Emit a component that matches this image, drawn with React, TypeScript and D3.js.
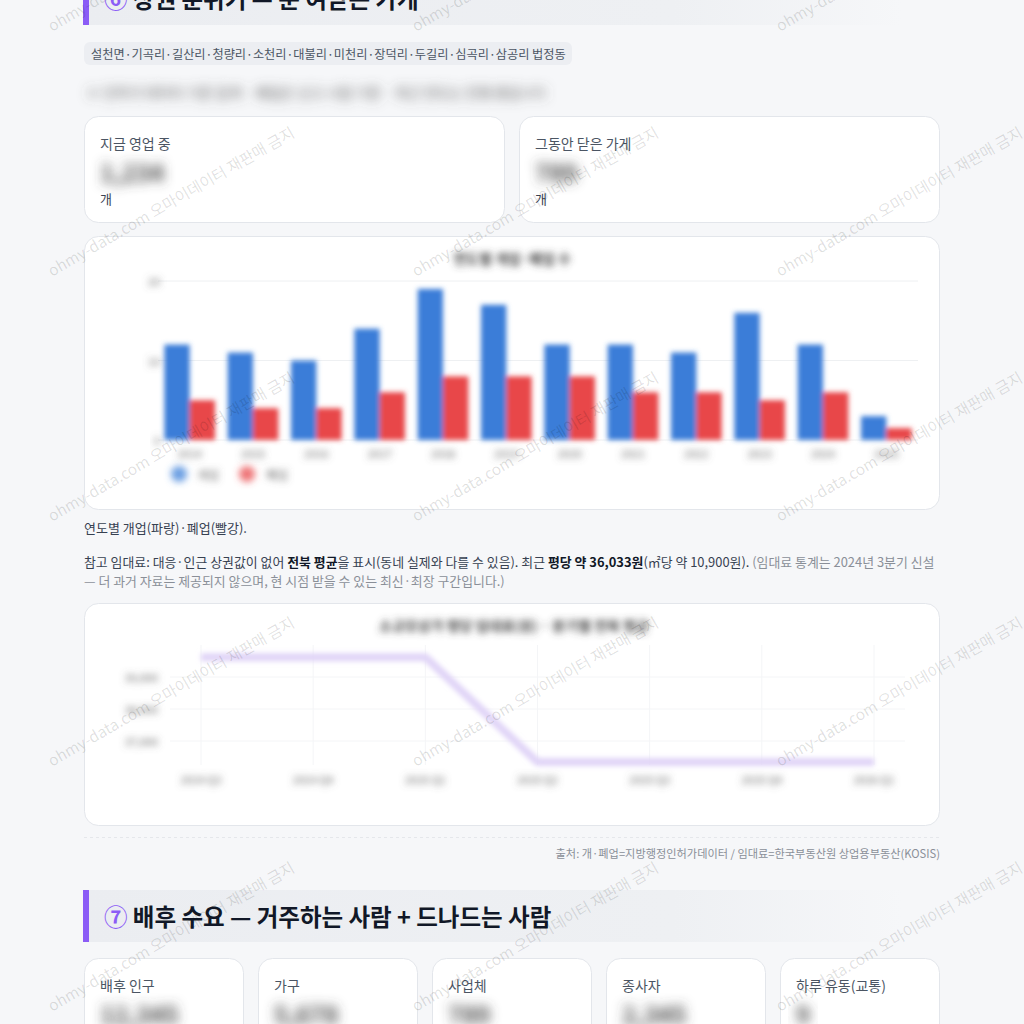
import React from 'react';
import * as d3 from 'd3';

// ---------- data ----------
const dongList = '설천면·기곡리·길산리·청량리·소천리·대불리·미천리·장덕리·두길리·심곡리·삼공리 법정동';
const years = ['2014', '2015', '2016', '2017', '2018', '2019', '2020', '2021', '2022', '2023', '2024', '2025'];
const openCounts = [12, 11, 10, 14, 19, 17, 12, 12, 11, 16, 12, 3];
const closeCounts = [5, 4, 4, 6, 8, 8, 8, 6, 6, 5, 6, 1.5];
const barTicks = [0, 10, 20];
const quarters = ['2024 Q3', '2024 Q4', '2025 Q1', '2025 Q2', '2025 Q3', '2025 Q4', '2026 Q1'];
const rentValues = [39620, 39620, 39620, 36340, 36340, 36340, 36340];
const rentTicks = [37000, 38000, 39000];
const demandLabels = ['배후 인구', '가구', '사업체', '종사자', '하루 유동(교통)'];
const demandValues = ['12,345', '5,678', '789', '2,345', '9'];

const FONT = '"Noto Sans CJK KR", "Noto Sans", sans-serif';
const BLUE = '#3b7dd8';
const RED = '#e8474a';
const PURPLE = '#8b5cf6';

function Card({ x, y, w, h }: { x: number; y: number; w: number; h: number }) {
  return <rect x={x + 0.5} y={y + 0.5} width={w - 1} height={h - 1} rx={14} fill="#fff" stroke="#e3e6eb" />;
}

export default function App() {
  // bar chart scales
  const xBand = d3.scaleBand<string>().domain(years).range([158, 918]).paddingInner(0.2).paddingOuter(0.1);
  const xSub = d3.scaleBand<string>().domain(['open', 'close']).range([0, xBand.bandwidth()]);
  const yBar = d3.scaleLinear().domain([0, 20]).range([440, 281]);

  // rent line scales
  const xQ = d3.scalePoint<string>().domain(quarters).range([201, 874]);
  const yRent = d3.scaleLinear().domain([37000, 39000]).range([741, 677]);
  const rentLine = d3
    .line<number>()
    .x((_, i) => xQ(quarters[i]) as number)
    .y((d) => yRent(d));

  const wmCols = [52, 416, 780];
  const wmRows = [32, 277, 522, 767, 1012];

  return (
    <svg
      width={1024}
      height={1024}
      viewBox="0 0 1024 1024"
      style={{ position: 'absolute', left: 0, top: 0, display: 'block' }}
      fontFamily={FONT}
    >
      <defs>
        <filter id="bS" x="-10%" y="-10%" width="120%" height="120%">
          <feGaussianBlur stdDeviation="2.8" />
        </filter>
        <filter id="bM" x="-50%" y="-150%" width="200%" height="400%">
          <feGaussianBlur stdDeviation="3.5" />
        </filter>
        <filter id="bL" x="-50%" y="-150%" width="200%" height="400%">
          <feGaussianBlur stdDeviation="6" />
        </filter>
        <linearGradient id="hdr" x1="0" x2="1" y1="0" y2="0">
          <stop offset="0" stopColor="#ebedf1" />
          <stop offset="0.72" stopColor="#eef0f3" />
          <stop offset="1" stopColor="#f6f7f9" />
        </linearGradient>
      </defs>

      <rect x={0} y={0} width={1024} height={1024} fill="#f6f7f9" />

      {/* section 6 header */}
      <rect x={83} y={-27} width={820} height={52} fill="url(#hdr)" />
      <rect x={83} y={-27} width={6} height={52} fill={PURPLE} />
      <text x={104} y={-2} dominantBaseline="central" fontSize={23.5} fontWeight={700} fill="#111827">
        <tspan fill={PURPLE}>⑥</tspan> 상권 분위기 — 문 여닫는 가게
      </text>

      {/* chip */}
      <rect x={84} y={42} width={488} height={23} rx={6} fill="#eceef2" />
      <text x={91} y={53.5} dominantBaseline="central" fontSize={12.2} fill="#4b5563">
        {dongList}
      </text>

      {/* blurred note */}
      <text x={86} y={92} dominantBaseline="central" fontSize={14} fill="#555" filter="url(#bL)">
        ※ 인허가 데이터 기준 집계 · 폐업은 신고 시점 기준 · 최근 연도는 진행 중입니다
      </text>

      {/* KPI cards */}
      <Card x={84} y={116} w={421} h={107} />
      <Card x={519} y={116} w={421} h={107} />
      <text x={100} y={143} dominantBaseline="central" fontSize={14} fill="#4b5563">지금 영업 중</text>
      <text x={100} y={171} dominantBaseline="central" fontSize={24} fontWeight={700} fill="#444" filter="url(#bL)">1,234</text>
      <text x={100} y={198} dominantBaseline="central" fontSize={13} fill="#374151">개</text>
      <text x={535} y={143} dominantBaseline="central" fontSize={14} fill="#4b5563">그동안 닫은 가게</text>
      <text x={535} y={171} dominantBaseline="central" fontSize={24} fontWeight={700} fill="#444" filter="url(#bL)">789</text>
      <text x={535} y={198} dominantBaseline="central" fontSize={13} fill="#374151">개</text>

      {/* bar chart card */}
      <Card x={84} y={236} w={856} h={274} />
      <text x={512} y={258} textAnchor="middle" dominantBaseline="central" fontSize={14} fontWeight={700} fill="#444" filter="url(#bM)">
        연도별 개업·폐업 수
      </text>
      {barTicks.map((t) => (
        <g key={t}>
          <line x1={158} x2={918} y1={yBar(t)} y2={yBar(t)} stroke="#eef0f2" />
          <text x={160} y={yBar(t)} textAnchor="end" dominantBaseline="central" fontSize={11} fill="#666" filter="url(#bM)">
            {t}
          </text>
        </g>
      ))}
      <g filter="url(#bS)">
        {years.map((yr, i) => {
          const x0 = xBand(yr) as number;
          return (
            <g key={yr}>
              <rect x={x0 + (xSub('open') as number)} y={yBar(openCounts[i])} width={xSub.bandwidth()} height={yBar(0) - yBar(openCounts[i])} fill={BLUE} />
              <rect x={x0 + (xSub('close') as number)} y={yBar(closeCounts[i])} width={xSub.bandwidth()} height={yBar(0) - yBar(closeCounts[i])} fill={RED} />
            </g>
          );
        })}
      </g>
      {years.map((yr) => (
        <text key={yr} x={(xBand(yr) as number) + xBand.bandwidth() / 2} y={453} textAnchor="middle" dominantBaseline="central" fontSize={11} fill="#666" filter="url(#bM)">
          {yr}
        </text>
      ))}
      <g filter="url(#bM)">
        <circle cx={179} cy={474} r={8} fill={BLUE} opacity={0.75} />
        <text x={197} y={474} dominantBaseline="central" fontSize={12} fill="#666">개업</text>
        <circle cx={247} cy={474} r={8} fill={RED} opacity={0.75} />
        <text x={266} y={474} dominantBaseline="central" fontSize={12} fill="#666">폐업</text>
      </g>

      <text x={84} y={527} dominantBaseline="central" fontSize={13} fill="#374151">연도별 개업(파랑)·폐업(빨강).</text>

      {/* rent paragraph */}
      <text x={84} y={561} dominantBaseline="central" fontSize={12.9} fill="#374151">
        <tspan>참고 임대료: 대응·인근 상권값이 없어 </tspan>
        <tspan fontWeight={700} fill="#111827">전북 평균</tspan>
        <tspan>을 표시(동네 실제와 다를 수 있음). 최근 </tspan>
        <tspan fontWeight={700} fill="#111827">평당 약 36,033원</tspan>
        <tspan>(㎡당 약 10,900원). </tspan>
        <tspan fill="#8a8f98">(임대료 통계는 2024년 3분기 신설</tspan>
      </text>
      <text x={84} y={580} dominantBaseline="central" fontSize={12.9} fill="#8a8f98">
        — 더 과거 자료는 제공되지 않으며, 현 시점 받을 수 있는 최신·최장 구간입니다.)
      </text>

      {/* rent line chart card */}
      <Card x={84} y={603} w={856} h={223} />
      <text x={514} y={625} textAnchor="middle" dominantBaseline="central" fontSize={14} fontWeight={700} fill="#444" filter="url(#bM)">
        소규모상가 평당 임대료(원) · 분기별 전북 평균
      </text>
      {quarters.map((q) => (
        <line key={q} x1={xQ(q) as number} x2={xQ(q) as number} y1={645} y2={765} stroke="#f4f5f7" />
      ))}
      {rentTicks.map((t) => (
        <g key={t}>
          <line x1={170} x2={905} y1={yRent(t)} y2={yRent(t)} stroke="#f4f5f7" />
          <text x={158} y={yRent(t)} textAnchor="end" dominantBaseline="central" fontSize={11} fill="#666" filter="url(#bM)">
            {d3.format(',')(t)}
          </text>
        </g>
      ))}
      <path d={rentLine(rentValues) as string} fill="none" stroke="#e0d4f7" strokeWidth={8} strokeLinejoin="round" filter="url(#bS)" />
      {quarters.map((q) => (
        <text key={q} x={xQ(q) as number} y={779} textAnchor="middle" dominantBaseline="central" fontSize={11} fill="#666" filter="url(#bM)">
          {q}
        </text>
      ))}

      {/* source */}
      <line x1={84} x2={940} y1={837.5} y2={837.5} stroke="#e5e7eb" strokeDasharray="3 3" />
      <text x={940} y={853} textAnchor="end" dominantBaseline="central" fontSize={11.2} fill="#8a8f98">
        출처: 개·폐업=지방행정인허가데이터 / 임대료=한국부동산원 상업용부동산(KOSIS)
      </text>

      {/* section 7 header */}
      <rect x={83} y={890} width={820} height={52} fill="url(#hdr)" />
      <rect x={83} y={890} width={6} height={52} fill={PURPLE} />
      <text x={104} y={916} dominantBaseline="central" fontSize={23.5} fontWeight={700} fill="#111827">
        <tspan fill={PURPLE}>⑦</tspan> 배후 수요 — 거주하는 사람 + 드나드는 사람
      </text>

      {demandLabels.map((lab, i) => {
        const x = 84 + i * 174;
        return (
          <g key={lab}>
            <Card x={x} y={958} w={160} h={120} />
            <text x={x + 16} y={985} dominantBaseline="central" fontSize={14} fill="#4b5563">{lab}</text>
            <text x={x + 16} y={1013} dominantBaseline="central" fontSize={24} fontWeight={700} fill="#444" filter="url(#bL)">{demandValues[i]}</text>
          </g>
        );
      })}

      {/* watermarks */}
      <g pointerEvents="none">
        {wmRows.map((wy) =>
          wmCols.map((wx) => (
            <text key={`${wx}-${wy}`} x={wx} y={wy} transform={`rotate(-30 ${wx} ${wy})`} fontSize={15.5} fill="#000" fillOpacity={0.13}>
              ohmy-data.com 오마이데이터 재판매 금지
            </text>
          ))
        )}
      </g>
    </svg>
  );
}
